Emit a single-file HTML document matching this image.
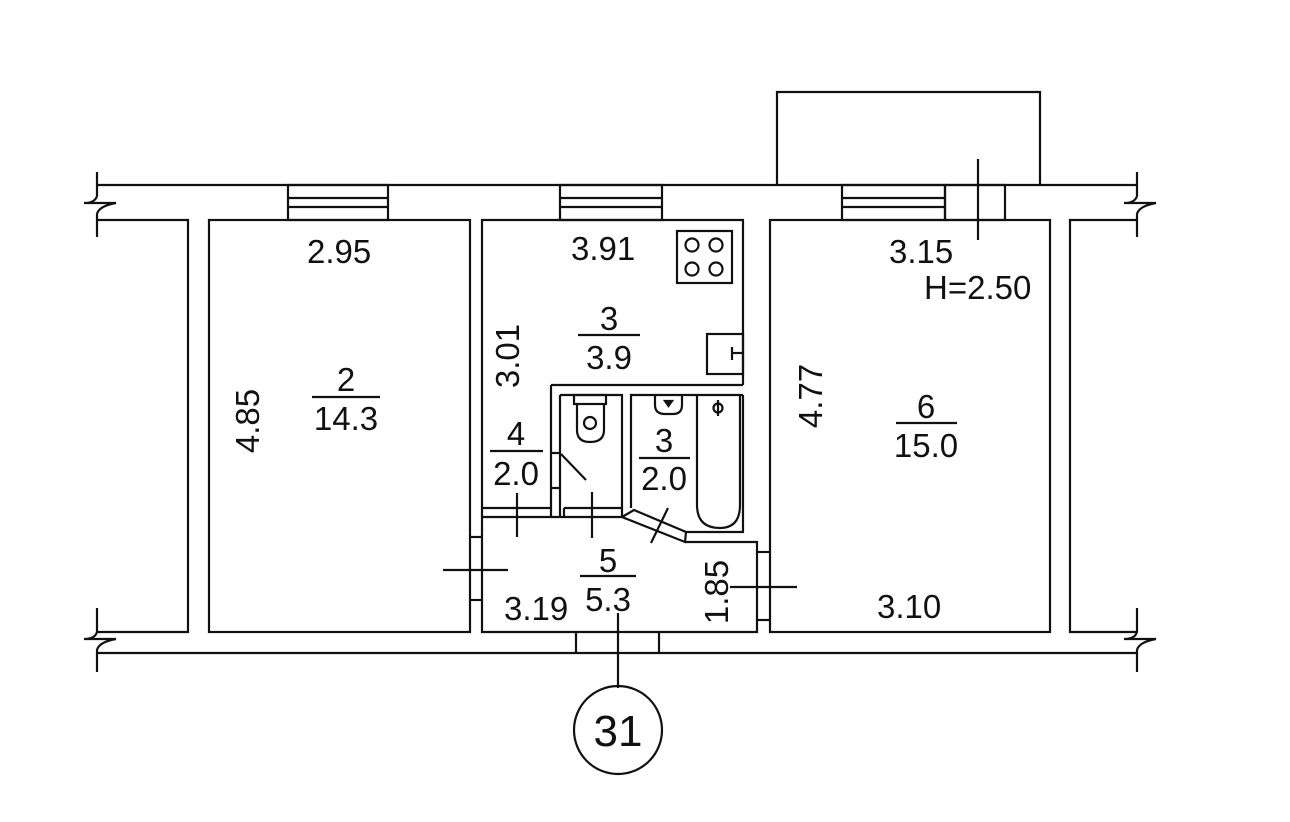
<!DOCTYPE html>
<html><head><meta charset="utf-8"><style>
body{margin:0;background:#fff}
svg{display:block}
text{font-family:"Liberation Sans",Arial,sans-serif;fill:#111}
</style></head><body>
<svg width="1290" height="822" viewBox="0 0 1290 822" xmlns="http://www.w3.org/2000/svg">
<g fill="none" stroke="#111" stroke-width="2.2">
<line x1="97" y1="185" x2="1137" y2="185"/>
<line x1="97" y1="653" x2="1137" y2="653"/>
<path d="M97 172 V196 Q95 203 84 203 L116 203 Q99 206 97 214 V237"/>
<path d="M1137 172 V196 Q1135 203 1124 203 L1156 203 Q1139 206 1137 214 V237"/>
<path d="M97 608 V632 Q95 639 84 639 L116 639 Q99 642 97 650 V672"/>
<path d="M1137 608 V632 Q1135 639 1124 639 L1156 639 Q1139 642 1137 650 V672"/>
<polyline points="97,220 188,220 188,632 97,632"/>
<polyline points="1137,220 1070,220 1070,632 1137,632"/>
<rect x="209" y="220" width="261" height="412"/>
<rect x="770" y="220" width="280" height="412"/>
<polyline points="482,517 482,220 743,220 743,385"/>
<line x1="551" y1="385" x2="743" y2="385"/>
<rect x="288" y="185" width="100" height="35"/>
<line x1="288" y1="198" x2="388" y2="198"/><line x1="288" y1="207" x2="388" y2="207"/>
<rect x="560" y="185" width="102" height="35"/>
<line x1="560" y1="198" x2="662" y2="198"/><line x1="560" y1="207" x2="662" y2="207"/>
<rect x="842" y="185" width="103" height="35"/>
<line x1="842" y1="198" x2="945" y2="198"/><line x1="842" y1="207" x2="945" y2="207"/>
<polyline points="777,185 777,92 1040,92 1040,185"/>
<rect x="945" y="185" width="60" height="35"/>
<line x1="978" y1="159" x2="978" y2="240"/>
<rect x="677" y="231" width="55" height="52"/>
<circle cx="692" cy="245" r="6.5"/><circle cx="716" cy="245" r="6.5"/>
<circle cx="692" cy="269" r="6.5"/><circle cx="716" cy="269" r="6.5"/>
<rect x="707" y="334" width="36" height="40"/>
<line x1="732" y1="347" x2="732" y2="360"/><line x1="732" y1="353" x2="743" y2="353"/>
<line x1="551" y1="385" x2="551" y2="517"/>
<line x1="560" y1="395" x2="560" y2="508"/>
<line x1="551" y1="453" x2="560" y2="453"/><line x1="551" y1="488" x2="560" y2="488"/>
<polyline points="560,395 622,395 622,517"/>
<line x1="482" y1="508" x2="551" y2="508"/>
<line x1="482" y1="517" x2="622" y2="517"/>
<line x1="564" y1="508" x2="622" y2="508"/>
<line x1="560" y1="508" x2="560" y2="517"/><line x1="564" y1="508" x2="564" y2="517"/>
<polyline points="631,508 631,395 743,395"/>
<polygon points="622,517 634,510 686,532 685,542"/>
<polyline points="686,532 743,532 743,395"/>
<rect x="574" y="395" width="32" height="9"/>
<path d="M577 404 V430 Q577 442 590 442 Q604 442 604 430 V404"/>
<circle cx="590" cy="423" r="6"/>
<line x1="561" y1="454" x2="586" y2="480"/>
<path d="M697 395 V505 Q697 528 720 528 Q740 528 740 505 V395"/>
<circle cx="718" cy="408" r="4.5"/><line x1="718" y1="400" x2="718" y2="416"/>
<path d="M655 395 V405 Q655 414 665 414 H673 Q682 414 682 405 V395"/>
<polygon points="665,401 672,401 668.5,406" fill="#111"/>
<polyline points="685,542 757,542 757,632 482,632 482,517"/>
<line x1="470" y1="537" x2="482" y2="537"/><line x1="470" y1="600" x2="482" y2="600"/>
<line x1="757" y1="552" x2="770" y2="552"/><line x1="757" y1="620" x2="770" y2="620"/>
<line x1="576" y1="632" x2="576" y2="653"/><line x1="659" y1="632" x2="659" y2="653"/>
<line x1="517" y1="493" x2="517" y2="537"/>
<line x1="592" y1="492" x2="592" y2="538"/>
<line x1="668" y1="508" x2="651" y2="543"/>
<line x1="443" y1="570" x2="508" y2="570"/>
<line x1="730" y1="587" x2="797" y2="587"/>
<line x1="618" y1="613" x2="618" y2="688"/>
<circle cx="618" cy="730" r="44"/>
<line x1="312" y1="397" x2="380" y2="397"/>
<line x1="578" y1="335" x2="640" y2="335"/>
<line x1="490" y1="451" x2="543" y2="451"/>
<line x1="639" y1="458" x2="690" y2="458"/>
<line x1="580" y1="576" x2="636" y2="576"/>
<line x1="896" y1="423" x2="957" y2="423"/>
</g>
<g font-size="33">
<text x="307" y="263">2.95</text>
<text x="571" y="260">3.91</text>
<text x="889" y="263">3.15</text>
<text x="924" y="299">H=2.50</text>
<text x="346" y="391" text-anchor="middle">2</text>
<text x="346" y="430" text-anchor="middle">14.3</text>
<text x="609" y="330" text-anchor="middle">3</text>
<text x="609" y="369" text-anchor="middle">3.9</text>
<text x="516" y="445" text-anchor="middle">4</text>
<text x="516" y="485" text-anchor="middle">2.0</text>
<text x="664" y="452" text-anchor="middle">3</text>
<text x="664" y="490" text-anchor="middle">2.0</text>
<text x="608" y="572" text-anchor="middle">5</text>
<text x="608" y="611" text-anchor="middle">5.3</text>
<text x="504" y="620">3.19</text>
<text x="877" y="618">3.10</text>
<text x="926" y="418" text-anchor="middle">6</text>
<text x="926" y="457" text-anchor="middle">15.0</text>
<text transform="translate(259,421) rotate(-90)" text-anchor="middle">4.85</text>
<text transform="translate(519,356) rotate(-90)" text-anchor="middle">3.01</text>
<text transform="translate(822,396) rotate(-90)" text-anchor="middle">4.77</text>
<text transform="translate(728,592) rotate(-90)" text-anchor="middle">1.85</text>
<text x="618" y="746" text-anchor="middle" font-size="44">31</text>
</g>
</svg>
</body></html>
